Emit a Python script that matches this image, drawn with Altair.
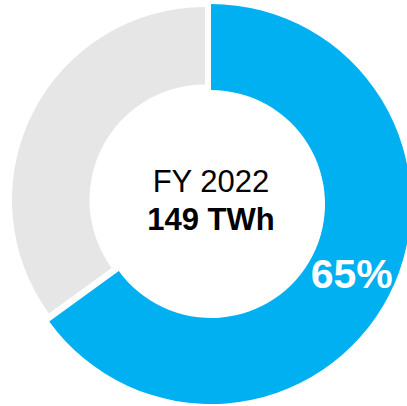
import math
import altair as alt
import pandas as pd

# ---- data ----
categories = ["Share", "Rest"]
values = [65, 35]
colors = ["#00B0F0", "#E7E6E6"]
center_title = "FY 2022"
center_value = "149 TWh"

starts, ends = [], []
acc = 0
for v in values:
    starts.append(acc)
    acc += v
    ends.append(acc)

df = pd.DataFrame({
    "cat": categories,
    "value": values,
    "start": starts,
    "end": ends,
    "mid": [(s + e) / 2 for s, e in zip(starts, ends)],
    "label": [f"{v}%" for v in values],
})

theta_scale = alt.Scale(domain=[0, 100], range=[0, 2 * math.pi])
FONT = "Liberation Sans"

base = alt.Chart(df)

blue_arc = base.transform_filter(alt.datum.cat == categories[0]).mark_arc(
    color=colors[0], radius=200, radius2=114
).encode(
    theta=alt.Theta("start:Q", scale=theta_scale),
    theta2="end:Q",
    x=alt.value(211), y=alt.value(204),
)

grey_arc = base.transform_filter(alt.datum.cat == categories[1]).mark_arc(
    color=colors[1], radius=193, radius2=115.5
).encode(
    theta=alt.Theta("start:Q", scale=theta_scale),
    theta2="end:Q",
    x=alt.value(205), y=alt.value(200),
)

pct_label = base.transform_filter(alt.datum.cat == categories[0]).mark_text(
    font=FONT, fontSize=41, fontWeight="bold", color="white",
    align="center", baseline="middle", radius=158
).encode(
    theta=alt.Theta("mid:Q", scale=theta_scale),
    text="label:N",
    x=alt.value(211), y=alt.value(204),
)

title_df = pd.DataFrame({"t": [center_title]})
value_df = pd.DataFrame({"t": [center_value]})

title_text = alt.Chart(title_df).mark_text(
    font=FONT, fontSize=31, color="#000000", align="center", baseline="alphabetic"
).encode(text="t:N", x=alt.value(211), y=alt.value(192))

value_text = alt.Chart(value_df).mark_text(
    font=FONT, fontSize=31, fontWeight="bold", color="#000000",
    align="center", baseline="alphabetic"
).encode(text="t:N", x=alt.value(211), y=alt.value(230))

chart = alt.layer(grey_arc, blue_arc, pct_label, title_text, value_text).properties(
    width=407, height=406, padding=0,
    autosize=alt.AutoSizeParams(type="none"),
    background="white",
).configure_view(stroke=None)

chart.save("out.html", embed_options={"renderer": "svg", "actions": False})
